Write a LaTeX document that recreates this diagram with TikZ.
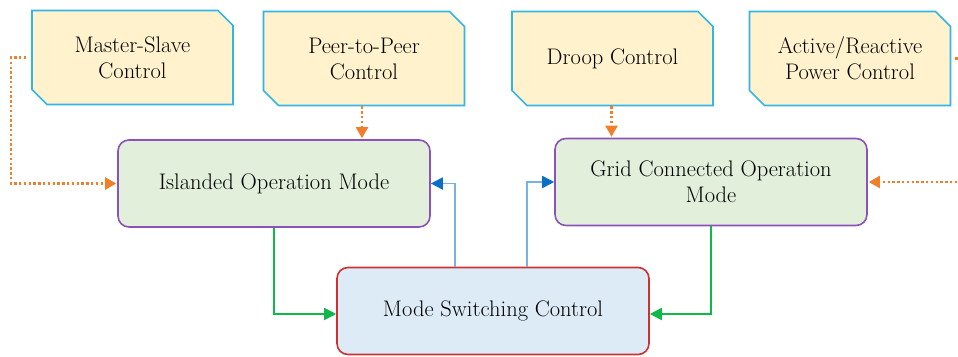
\documentclass[tikz,border=0pt]{standalone}
\usepackage{fontspec}
\usepackage{tikz}
\usetikzlibrary{shapes.misc,arrows.meta}
\definecolor{ctrlfill}{HTML}{FFF2CC}
\definecolor{ctrlline}{HTML}{33B5E8}
\definecolor{modefill}{HTML}{E2EFDA}
\definecolor{modeline}{HTML}{8C52B8}
\definecolor{switchfill}{HTML}{DDEBF7}
\definecolor{switchline}{HTML}{D03030}
\definecolor{dotorange}{HTML}{F07F2C}
\definecolor{gogreen}{HTML}{10B84A}
\definecolor{backblue}{HTML}{78B2E2}
\definecolor{headblue}{HTML}{0B70C4}

\begin{document}
\begin{tikzpicture}[x=1pt,y=-1pt,
  font=\rmfamily\fontsize{22.5}{26}\selectfont,
  control/.style={draw=ctrlline,fill=ctrlfill,line width=1.6pt,
    chamfered rectangle,chamfered rectangle corners={north east,south west},
    chamfered rectangle xsep=7.5pt,chamfered rectangle ysep=7.5pt,
    minimum width=201pt,minimum height=94pt,inner sep=0pt,align=center},
  opmode/.style={draw=modeline,fill=modefill,line width=1.6pt,rounded corners=11pt,
    minimum width=312pt,minimum height=87pt,align=center},
  switch/.style={opmode,draw=switchline,fill=switchfill},
  feed/.style={draw=dotorange,line width=2.2pt,dash pattern=on 2.4pt off 2.4pt,
    -{Triangle[length=11pt,width=12pt,sep=1pt]}},
  toop/.style={draw=gogreen,line width=1.8pt,-{Triangle[length=12pt,width=12pt]}},
  back/.style={draw=backblue,line width=1.8pt,-{Triangle[length=12pt,width=12pt,color=headblue]}}
  ]
  \clip (0,0) rectangle (958,356);
  \node[control] (ms) at (132.5,57.5) {Master-Slave\\Control};
  \node[control] (p2p) at (364,58.5) {Peer-to-Peer\\Control};
  \node[control] (droop) at (612.5,58.5) {Droop Control};
  \node[control] (pq) at (850,58.5) {Active/Reactive\\Power Control};
  \node[opmode] (island) at (274,183.5) {Islanded Operation Mode};
  \node[opmode] (grid) at (711,182) {Grid Connected Operation\\Mode};
  \node[switch] (msc) at (493,311) {Mode Switching Control};
  % control strategies
  \draw[feed] ([xshift=-5pt]ms.west) -- ++(-15,0) |- (island.west);
  \draw[feed] ([xshift=-2pt]p2p.south) -- ([xshift=-2pt]p2p.south |- island.north);
  \draw[feed] ([xshift=-1pt]droop.south) -- ([xshift=-1pt]droop.south |- grid.north);
  \draw[feed] ([xshift=4pt]pq.east) -- ++(16,0) |- (grid.east);
  % switching loop
  \draw[toop] (island.south) |- ([yshift=-3pt]msc.west);
  \draw[toop] (grid.south) |- ([yshift=-3pt]msc.east);
  \draw[back] ([xshift=-38pt]msc.north) |- (island.east);
  \draw[back] ([xshift=34pt]msc.north) |- (grid.west);
\end{tikzpicture}
\end{document}
